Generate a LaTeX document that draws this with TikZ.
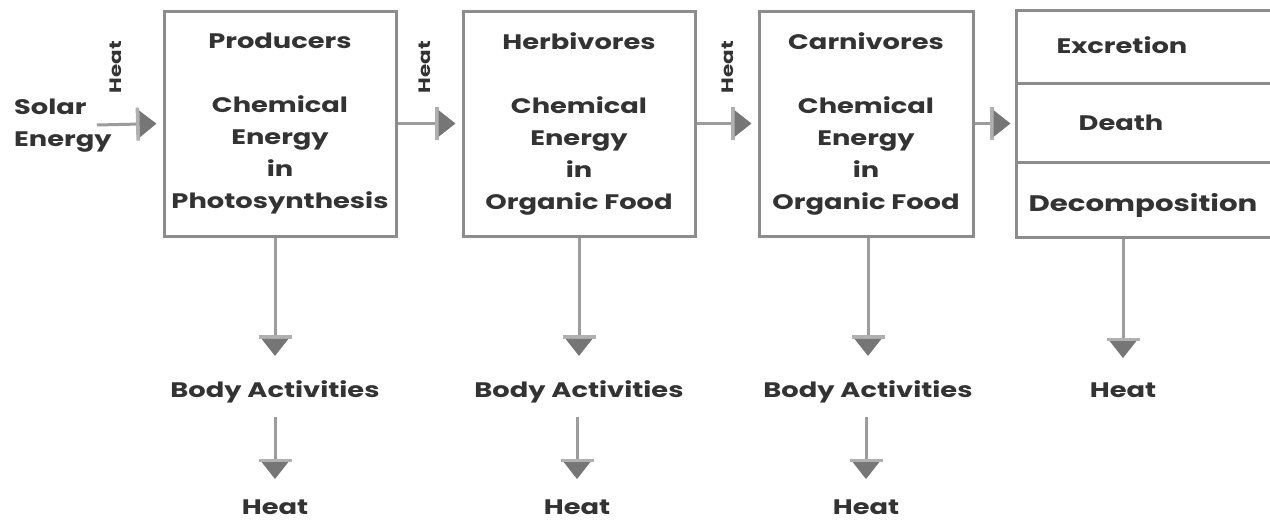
\documentclass[tikz,border=0pt]{standalone}
\usepackage{fontspec}
\setmainfont{Poppins}[FakeStretch=1.3]
\usetikzlibrary{arrows.meta}
\definecolor{boxc}{HTML}{8C8C8C}
\definecolor{linec}{HTML}{9C9C9C}
\definecolor{barc}{HTML}{B0B0B0}
\definecolor{tipc}{HTML}{767676}
\definecolor{txtc}{HTML}{333333}
\tikzset{
  box/.style={draw=boxc, line width=3pt, minimum width=232pt, minimum height=225pt, inner sep=0pt,
    align=center, text=txtc, font=\bfseries\fontsize{21}{32}\selectfont},
  cell/.style={draw=boxc, line width=3pt, inner sep=0pt, minimum width=290pt},
  lbl/.style={text=txtc, font=\bfseries\fontsize{21}{32}\selectfont, inner sep=0pt},
  vlbl/.style={text=txtc, font=\bfseries\fontsize{16.5}{18}\selectfont, inner sep=0pt, rotate=90},
  flow/.style={draw=linec, line width=3pt,
    -{Rectangle[length=3.5pt,width=33pt,sep=0pt,color=barc]Triangle[width=26pt,length=17pt,color=tipc]}},
}
\begin{document}
\begin{tikzpicture}[x=1pt,y=-1pt]
\useasboundingbox (0,0) rectangle (1270,520);
\fill[white] (0,0) rectangle (1270,520);

% main boxes
\node[box] (p) at (280,123.5) {Producers\\[32pt]Chemical\\Energy\\in\\Photosynthesis};
\node[box] (h) at (579,123.5) {Herbivores\\[32pt]Chemical\\Energy\\in\\Organic Food};
\node[box, minimum width=214pt] (c) at (866,123.5) {Carnivores\\[32pt]Chemical\\Energy\\in\\Organic Food};

% right box (cut at the page edge)
\node[cell, minimum height=73pt] (ex) at (1161,46.5) {};
\node[cell, minimum height=79pt] (de) at (1161,122.5) {};
\node[cell, minimum height=75pt] (dc) at (1161,199.5) {};
\node[lbl] (ext) at (1122,45) {Excretion};
\node[lbl] (det) at (1121,123) {Death};
\node[lbl, font=\bfseries\fontsize{22.5}{32}\selectfont] (dct) at (1143,205) {Decomposition};

% solar energy
\node[lbl, align=left, anchor=west] (sol) at (14,126) {Solar\\Energy};
\coordinate (s0) at (97,125);

% heat labels (rotated)
\node[vlbl] (hq1) at (116,67) {Heat};
\node[vlbl] (hq2) at (425,67) {Heat};
\node[vlbl] (hq3) at (728,67) {Heat};

% horizontal flow
\draw[flow, shorten >=6pt] (s0) -- (p.west);
\draw[flow, shorten >=6pt] (p.east) -- (h.west);
\draw[flow, shorten >=6pt] (h.east) -- (c.west);
\draw[flow, shorten >=4pt] (c.east) -- (c.east -| de.west);

% lower labels
\node[lbl, anchor=base] (ba1) at (275,397) {Body Activities};
\node[lbl, anchor=base] (ba2) at (579,397) {Body Activities};
\node[lbl, anchor=base] (ba3) at (868,397) {Body Activities};
\node[lbl, anchor=base] (hd) at (1123,397) {Heat};
\node[lbl, anchor=base] (ht1) at (275,514) {Heat};
\node[lbl, anchor=base] (ht2) at (577,514) {Heat};
\node[lbl, anchor=base] (ht3) at (866,514) {Heat};

% vertical flow
\draw[flow, shorten >=24pt] (p.south -| ba1.north) -- (ba1.north);
\draw[flow, shorten >=24pt] (h.south -| ba2.north) -- (ba2.north);
\draw[flow, shorten >=24pt] (c.south -| ba3.north) -- (ba3.north);
\draw[flow, shorten >=24pt] (dc.south -| hd.north) -- (hd.north);
\draw[flow, shorten <=14pt, shorten >=20pt] (ba1.south -| ht1.north) -- (ht1.north);
\draw[flow, shorten <=14pt, shorten >=20pt] (ba2.south -| ht2.north) -- (ht2.north);
\draw[flow, shorten <=14pt, shorten >=20pt] (ba3.south -| ht3.north) -- (ht3.north);
\end{tikzpicture}
\end{document}
